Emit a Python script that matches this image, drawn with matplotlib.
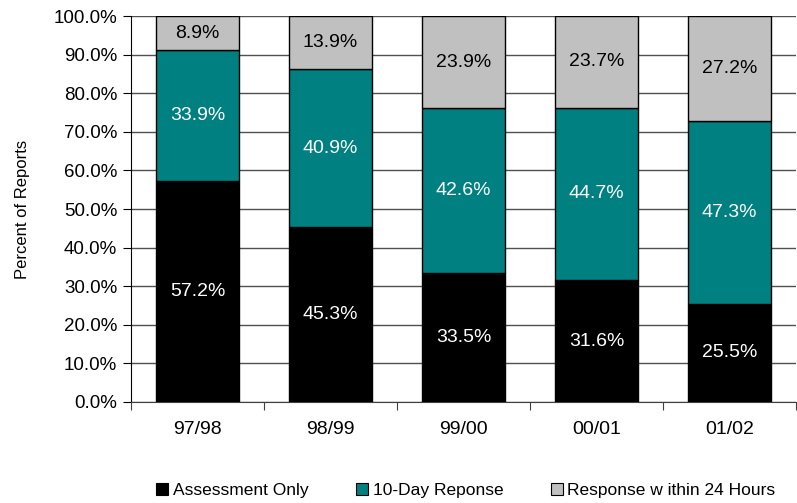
import numpy as np
import matplotlib
matplotlib.use('Agg')
import matplotlib.pyplot as plt
from matplotlib.lines import Line2D

plt.rcParams['font.family'] = ['Liberation Sans', 'DejaVu Sans']

# ======================== Data ========================
years = ['97/98', '98/99', '99/00', '00/01', '01/02']
assessment_only = [57.2, 45.3, 33.5, 31.6, 25.5]
ten_day = [33.9, 40.9, 42.6, 44.7, 47.3]
within_24h = [8.9, 13.9, 23.9, 23.7, 27.2]
series_names = ['Assessment Only', '10-Day Reponse', 'Response w ithin 24 Hours']
y_ticks = np.arange(0, 101, 10)

colors = ['#000000', '#008080', '#C0C0C0']
text_colors = ['white', 'white', 'black']

# ======================== Plot ========================
fig = plt.figure(figsize=(7.97, 5.03), dpi=100)
ax = fig.add_axes([0.1644, 0.2008, 0.8343, 0.7672])

x = np.arange(len(years))
bottom = np.zeros(len(years))
for vals, col, tcol in zip([assessment_only, ten_day, within_24h], colors, text_colors):
    vals = np.array(vals)
    ax.bar(x, vals, width=0.63, bottom=bottom, color=col, edgecolor='black',
           linewidth=1, zorder=3)
    for xi, b, v in zip(x, bottom, vals):
        ax.text(xi, b + v / 2, '%.1f%%' % v, ha='center', va='center',
                color=tcol, fontsize=14, zorder=4)
    bottom += vals

ax.set_xlim(-0.5, len(years) - 0.5)
ax.set_ylim(0, 100)
ax.set_yticks(y_ticks)
ax.set_yticklabels(['%.1f%%' % v for v in y_ticks], fontsize=13.5)
ax.yaxis.grid(True, color='#505050', linewidth=1, zorder=0)

# category ticks sit between the bars
ax.set_xticks(np.arange(-0.5, len(years), 1.0))
ax.set_xticklabels([])
ax.set_xticks(x, minor=True)
ax.set_xticklabels(years, minor=True, fontsize=14)
ax.tick_params(axis='x', which='minor', length=0, pad=14)
ax.tick_params(axis='x', which='major', length=6, color='#404040')
ax.tick_params(axis='y', length=6, pad=4)

for s in ['top', 'right']:
    ax.spines[s].set_visible(False)
ax.spines['bottom'].set_color('#404040')
ax.spines['left'].set_color('black')

ax.set_ylabel('Percent of Reports', fontsize=12, labelpad=17)

handles = [Line2D([], [], marker='s', linestyle='none', markersize=8,
                  markerfacecolor=c, markeredgecolor='black', markeredgewidth=0.8)
           for c in colors]
fig.legend(handles, series_names, loc='lower center', bbox_to_anchor=(0.583, -0.022),
           ncol=3, frameon=False, fontsize=12.5, handletextpad=0.1,
           columnspacing=2.6, handlelength=1.0)

fig.savefig('out.png', dpi=100)
